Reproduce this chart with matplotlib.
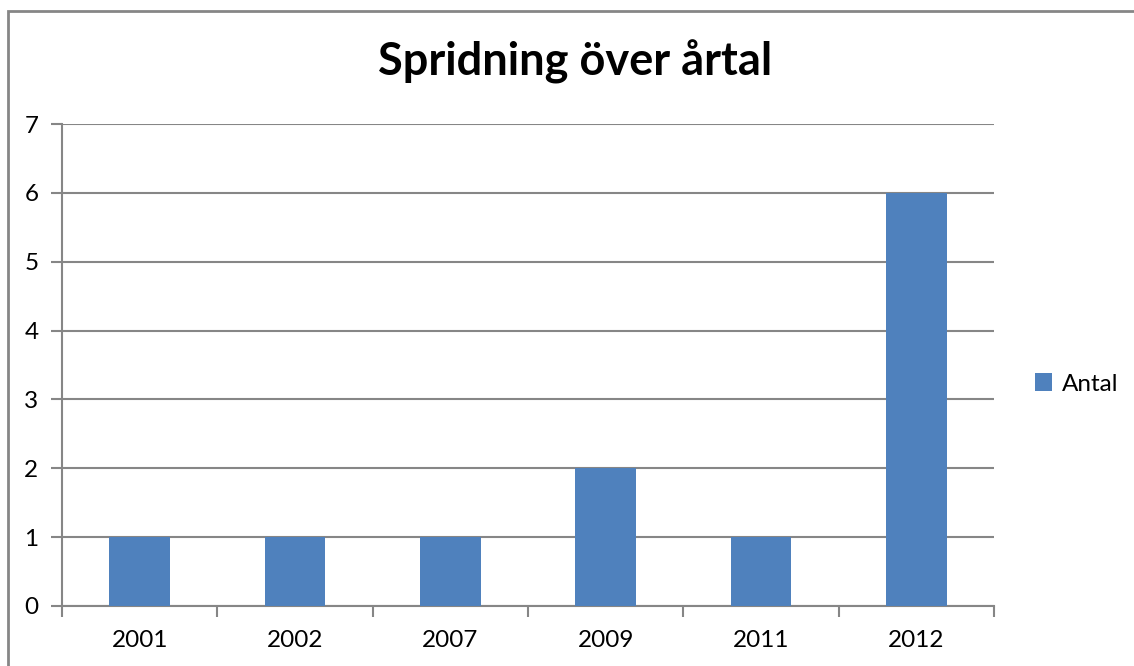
import matplotlib.pyplot as plt
from matplotlib.patches import Rectangle

years = ["2001", "2002", "2007", "2009", "2011", "2012"]
antal = [1, 1, 1, 2, 1, 6]

plt.rcParams['font.family'] = ['Lato', 'DejaVu Sans']
grey = "#868686"

fig = plt.figure(figsize=(11.34, 6.66), dpi=100)
ax = fig.add_axes([62/1134, 1 - 606/666, (994-62)/1134, (606-124)/666])

x = list(range(len(years)))
ax.bar(x, antal, width=0.39, color="#4F81BD", label="Antal", zorder=3)

ax.set_xlim(-0.5, len(years) - 0.5)
ax.set_ylim(0, 7)
ax.set_yticks(range(0, 8))
ax.set_xticks(x)
ax.set_xticklabels(years)
ax.set_xticks([i - 0.5 for i in range(len(years) + 1)], minor=True)
ax.tick_params(axis='x', which='major', length=0, pad=17, labelsize=17.5)
ax.tick_params(axis='x', which='minor', length=8, width=1.5, color=grey, direction='out')
ax.tick_params(axis='y', length=8, width=1.5, color=grey, direction='out', pad=9, labelsize=17.5)
ax.yaxis.grid(True, color=grey, linewidth=1.5, zorder=0)
for s in ['top', 'right']:
    ax.spines[s].set_visible(False)
for s in ['left', 'bottom']:
    ax.spines[s].set_color(grey)
    ax.spines[s].set_linewidth(1.5)

fig.text(575/1134, 1 - 62/666, "Spridning över årtal", ha='center', va='center',
         fontsize=32.5, fontweight='bold')

ax.legend(loc='center left', bbox_to_anchor=(1013/1134, 1 - 384/666),
          bbox_transform=fig.transFigure, frameon=False, fontsize=17.5,
          handlelength=0.7, handleheight=0.7, handletextpad=0.4)

# outer chart frame, running off the right and bottom edges
fig.patches.append(Rectangle((8/1134, -0.1), 1.2, 1 - 11/666 + 0.1,
                             transform=fig.transFigure, fill=False,
                             edgecolor=grey, linewidth=2))

fig.savefig("out.png", dpi=100)
